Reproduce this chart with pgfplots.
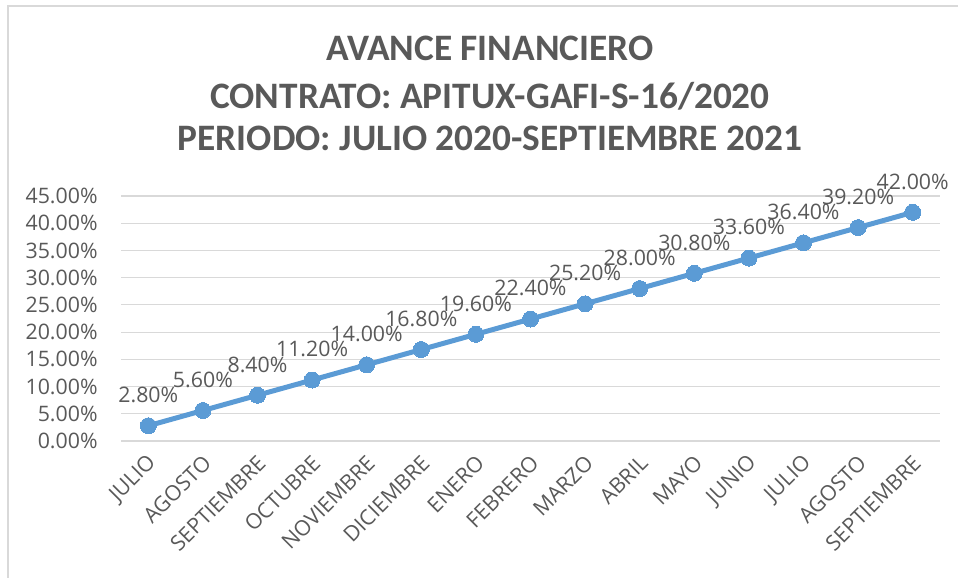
\documentclass[border=0pt]{standalone}
\usepackage{fontspec}
\setmainfont{Open Sans}
\newfontfamily\titlefont{Carlito}
\usepackage{pgfplots}
\pgfplotsset{compat=1.18}
\definecolor{txt}{HTML}{595959}
\definecolor{grd}{HTML}{D9D9D9}
\definecolor{ser}{HTML}{5B9BD5}
\begin{document}
\begin{tikzpicture}[x=0.75pt,y=0.75pt]
\path[use as bounding box] (0,0) rectangle (958,578);
\draw[grd, line width=1.5pt] (8,0) -- (8,572) -- (958,572);
\node[text=txt, font=\titlefont\bfseries\fontsize{28}{30}\selectfont] at (490,530) {AVANCE FINANCIERO};
\node[text=txt, font=\titlefont\bfseries\fontsize{28}{30}\selectfont] at (490,482) {CONTRATO: APITUX-GAFI-S-16/2020};
\node[text=txt, font=\titlefont\bfseries\fontsize{28}{30}\selectfont] at (490,440) {PERIODO: JULIO 2020-SEPTIEMBRE 2021};
\begin{axis}[
  at={(90.75pt,102.75pt)}, anchor=south west,
  scale only axis, width=614.25pt, height=183.75pt,
  xmin=-0.5, xmax=14.5, ymin=0, ymax=45,
  xtick={0,...,14},
  xticklabels={JULIO,AGOSTO,SEPTIEMBRE,OCTUBRE,NOVIEMBRE,DICIEMBRE,ENERO,FEBRERO,MARZO,ABRIL,MAYO,JUNIO,JULIO,AGOSTO,SEPTIEMBRE},
  ytick={0,5,...,45},
  yticklabel={\pgfmathprintnumber[fixed,fixed zerofill,precision=2]{\tick}\%},
  /pgf/number format/assume math mode=true,
  axis line style={draw=none},
  major tick length=0pt,
  ymajorgrids, grid style={grd, line width=0.9pt},
  tick label style={text=txt, font=\fontsize{16}{18}\selectfont},
  yticklabel style={xshift=-14pt},
  xticklabel style={rotate=45, anchor=east, xshift=-4pt, yshift=-12pt},
  clip=false,
]
\addplot[ser, line width=3.75pt, mark=*, mark size=6pt, mark options={fill=ser, draw=ser, line width=0pt},
  nodes near coords={\pgfmathprintnumber[fixed,fixed zerofill,precision=2]{\pgfplotspointmeta}\%},
  every node near coord/.style={text=txt, font=\fontsize{16}{18}\selectfont, anchor=center, yshift=23pt},
] coordinates {
(0,2.8)(1,5.6)(2,8.4)(3,11.2)(4,14.0)(5,16.8)(6,19.6)(7,22.4)(8,25.2)(9,28.0)(10,30.8)(11,33.6)(12,36.4)(13,39.2)(14,42.0)
};
\end{axis}
\end{tikzpicture}
\end{document}
